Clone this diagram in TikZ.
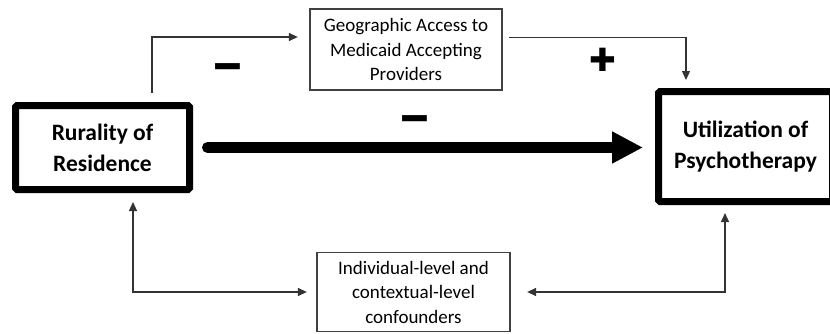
\documentclass[tikz,border=0pt]{standalone}
\usepackage{fontspec}
\setmainfont{Carlito}
\newfontfamily\symfont{DejaVu Sans}
\usetikzlibrary{arrows.meta}

\begin{document}
\begin{tikzpicture}[x=1pt, y=-1pt,
    mainbox/.style={draw, line width=7pt, rounded corners=1.5pt, minimum width=174pt, inner sep=0pt, align=center, font=\fontsize{23.5}{31}\selectfont\bfseries},
    smallbox/.style={draw=black!75, line width=1.3pt, minimum width=192pt, minimum height=80pt, inner sep=0pt, align=center, font=\fontsize{19}{24.5}\selectfont},
    conn/.style={draw=black!80, line width=1.3pt, -{Triangle[length=9pt,width=8pt]}},
    signlabel/.style={inner sep=0pt, font=\fontsize{70}{70}\selectfont\bfseries}]
    \useasboundingbox (0,0) rectangle (830,333);
    \clip (0,0) rectangle (830,333);

    \node[mainbox, minimum height=84pt] (rural) at (102.5,147.5) {Rurality of\\Residence};
    \node[mainbox, minimum height=110pt] (psycho) at (745.5,146.5) {Utilization of\\Psychotherapy};
    \node[smallbox, minimum height=81pt] (access) at (406,49.5) {Geographic Access to\\Medicaid Accepting\\Providers};
    \node[smallbox, minimum width=193pt, minimum height=79pt] (confound) at (413.5,292) {Individual-level and\\contextual-level\\confounders};

    \draw[line width=11pt, line cap=round, -{Triangle[length=31pt,width=30pt]}, shorten <=14.5pt, shorten >=12pt] (rural.east) -- (rural.east -| psycho.west);

    \draw[conn, shorten <=9pt, shorten >=11.5pt] ([xshift=49.5pt]rural.north) |- ([yshift=12.5pt]access.west);
    \draw[conn, shorten <=6.5pt, shorten >=8pt] ([yshift=12pt]access.east) -| ([xshift=-59.5pt]psycho.north);
    \draw[conn, {Triangle[length=9pt,width=8pt]}-{Triangle[length=9pt,width=8pt]}, shorten <=9pt, shorten >=9.5pt] ([xshift=30.5pt]rural.south) |- (confound.west);
    \draw[conn, {Triangle[length=9pt,width=8pt]}-{Triangle[length=9pt,width=8pt]}, shorten <=16.5pt, shorten >=8pt] (confound.east) -| ([xshift=-20.5pt]psycho.south);

    \node[signlabel] (minusA) at (228,75) {–};
    \node[signlabel] (minusB) at (415,127) {–};
    \node[inner sep=0pt, font=\symfont\fontsize{32}{32}\selectfont] (plusC) at (603,60) {✚};
\end{tikzpicture}
\end{document}
